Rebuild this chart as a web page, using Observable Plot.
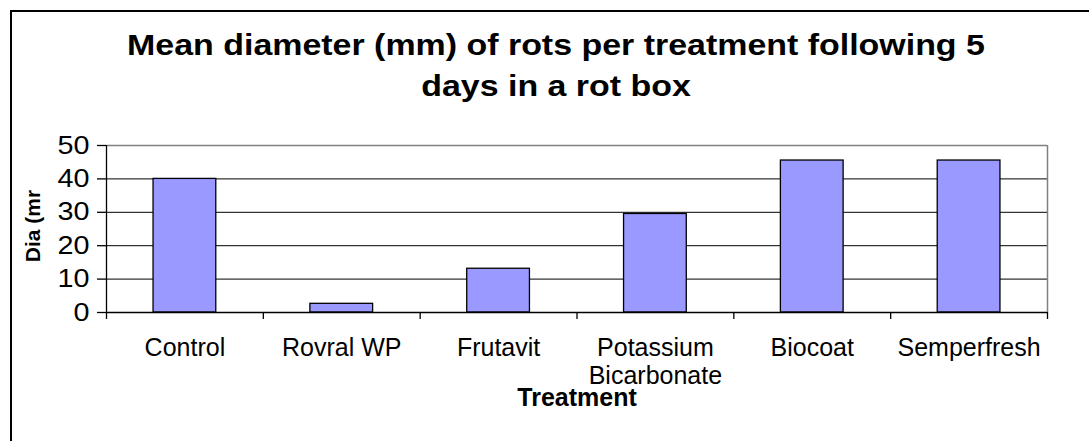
<!DOCTYPE html>
<html>
<head>
<meta charset="utf-8">
<script src="https://cdn.jsdelivr.net/npm/d3@7"></script>
<script src="https://cdn.jsdelivr.net/npm/@observablehq/plot@0.6"></script>
<style>
  html, body { margin: 0; padding: 0; background: #fff; }
  #wrap { position: relative; width: 1089px; height: 441px; overflow: hidden; font-family: "Liberation Sans", Arial, sans-serif; }
  #border { position: absolute; left: 10px; top: 10px; width: 2000px; height: 1000px; border-left: 2px solid #000; border-top: 2px solid #000; box-sizing: border-box; }
  .title { position: absolute; left: 556px; font-weight: bold; font-size: 29px; white-space: nowrap; transform: translateX(-50%) scaleX(1.17); transform-origin: center; color: #000; line-height: 1; }
</style>
</head>
<body>
<div id="wrap">
  <div id="border"></div>
  <div id="chart"></div>
  <div class="title" id="t1" style="top: 31px;"></div>
  <div class="title" id="t2" style="top: 72px;"></div>
</div>
<script>
const categories = ["Control", "Rovral WP", "Frutavit", "Potassium\nBicarbonate", "Biocoat", "Semperfresh"];
const values = [40, 2.6, 13.1, 29.5, 45.5, 45.5];
const yTicks = [0, 10, 20, 30, 40, 50];
const titleLines = ["Mean diameter (mm) of rots per treatment following 5", "days in a rot box"];
const yLabel = "Dia (mr";
const xLabel = "Treatment";

document.getElementById("t1").textContent = titleLines[0];
document.getElementById("t2").textContent = titleLines[1];

const data = categories.map((c, i) => ({cat: c, i, value: values[i]}));
const boundaries = d3.range(categories.length + 1);

const chart = Plot.plot({
  width: 1089,
  height: 441,
  marginLeft: 106,
  marginRight: 42,
  marginTop: 145,
  marginBottom: 129,
  style: {fontFamily: "Liberation Sans, Arial, sans-serif", background: "transparent", overflow: "visible"},
  x: {type: "linear", domain: [0, categories.length], axis: null},
  y: {domain: [0, 50], axis: null},
  marks: [
    Plot.ruleY(yTicks.filter(t => t > 0 && t < 50), {stroke: "#000", strokeWidth: 1}),
    Plot.ruleY([50], {stroke: "#808080", strokeWidth: 1.5}),
    Plot.ruleX([categories.length], {stroke: "#808080", strokeWidth: 1.5}),
    Plot.rectY(data, {x1: d => d.i + 0.3, x2: d => d.i + 0.7, y: "value", fill: "#9999FF", stroke: "#000", strokeWidth: 1.3}),
    Plot.ruleX([0], {stroke: "#000", strokeWidth: 1.3}),
    Plot.ruleY([0], {stroke: "#000", strokeWidth: 1.3}),
    Plot.axisY({ticks: yTicks, tickSize: 9, tickPadding: 8, fontSize: 25, stroke: "#000", strokeWidth: 1.3, label: null, fill: "#000", strokeOpacity: 1}),
    Plot.axisX({ticks: boundaries, tickSize: 7, tickFormat: () => "", label: null, stroke: "#000", strokeWidth: 1.3, strokeOpacity: 1}),
    Plot.text(data, {x: d => d.i + 0.5, y: 0, text: "cat", lineAnchor: "top", dy: 24, fontSize: 25, fill: "#000", lineHeight: 1.1}),
    Plot.text([xLabel], {frameAnchor: "bottom", dy: 93, text: d => d, fontSize: 25, fontWeight: "bold", fill: "#000", lineAnchor: "bottom"}),
    Plot.text([yLabel], {frameAnchor: "left", dx: -73, dy: -3, text: d => d, rotate: -90, textAnchor: "middle", fontSize: 21, fontWeight: "bold", fill: "#000"})
  ]
});
// widen the y tick labels slightly, keeping their right edge in place
d3.select(chart).selectAll('g[aria-label="y-axis tick label"] text').each(function() {
  const t = this.getAttribute("transform") || "";
  this.setAttribute("transform", t + " scale(1.15,1)");
});
document.getElementById("chart").appendChild(chart);
</script>
</body>
</html>
